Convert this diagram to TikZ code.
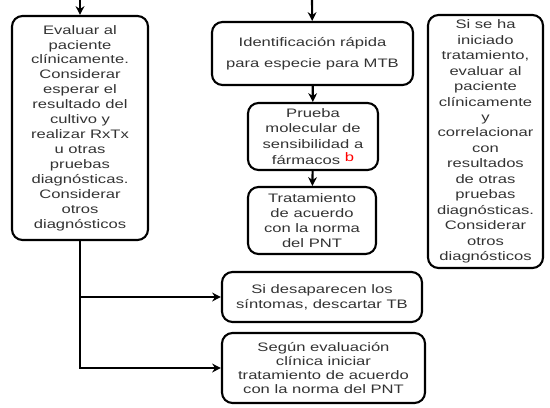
\documentclass[tikz,border=0pt]{standalone}
\usepackage{fontspec}
\setmainfont{Liberation Sans}[FakeStretch=1.35]
\usepackage{xcolor}
\usetikzlibrary{arrows.meta}

\begin{document}
\begin{tikzpicture}[
    >={Stealth[length=5pt, width=5pt]},
    box/.style={rectangle, draw, line width=1.2pt, rounded corners=6pt, align=center, inner sep=1pt, text=black!80, font=\fontsize{7}{#1}\selectfont},
    box/.default=9pt,
    arr/.style={->, line width=1.2pt},
]
\useasboundingbox (0,0) rectangle (11,-8.14);

% ---- Left column ----
\coordinate (inL) at (1.6, 0);
\node[box=8.5pt, minimum width=2.72cm, minimum height=4.48cm] (evaluar) at (1.6, -2.56) {Evaluar al\\paciente\\clínicamente.\\Considerar\\esperar el\\resultado del\\cultivo y\\realizar RxTx\\u otras\\pruebas\\diagnósticas.\\Considerar\\otros\\diagnósticos};

% ---- Middle column ----
\coordinate (inM) at (6.24, 0);
\node[box=12pt, minimum width=4.02cm, minimum height=1.26cm] (ident) at (6.25, -1.07) {Identificación rápida\\para especie para MTB};
\node[box=9pt, minimum width=2.6cm, minimum height=1.34cm] (prueba) at (6.26, -2.73) {Prueba\\molecular de\\sensibilidad a\\fármacos \textcolor{red}{\raisebox{0.5ex}{b}}};
\node[box=8.6pt, minimum width=2.56cm, minimum height=1.34cm] (trat) at (6.24, -4.41) {Tratamiento\\de acuerdo\\con la norma\\del PNT};

% ---- Lower boxes ----
\node[box=8.6pt, minimum width=4.0cm, minimum height=1.0cm] (sintomas) at (6.44, -5.94) {Si desaparecen los\\síntomas, descartar TB};
\node[box=7.8pt, minimum width=4.06cm, minimum height=1.4cm] (segun) at (6.47, -7.36) {Según evaluación\\clínica iniciar\\tratamiento de acuerdo\\con la norma del PNT};

% ---- Right column ----
\node[box=8.8pt, minimum width=2.3cm, minimum height=5.06cm] (iniciado) at (9.71, -2.83) {Si se ha\\iniciado\\tratamiento,\\evaluar al\\paciente\\clínicamente\\y\\correlacionar\\con\\resultados\\de otras\\pruebas\\diagnósticas.\\Considerar\\otros\\diagnósticos};

% ---- Arrows ----
\draw[arr] (inL) -- (evaluar);
\draw[arr] (inM) -- (ident);
\draw[arr] (ident) -- (prueba);
\draw[arr] (prueba) -- (trat);
\draw[arr] (evaluar.south) |- (segun.west);
\draw[arr] (evaluar.south |- sintomas.west) -- (sintomas.west);

\end{tikzpicture}
\end{document}
